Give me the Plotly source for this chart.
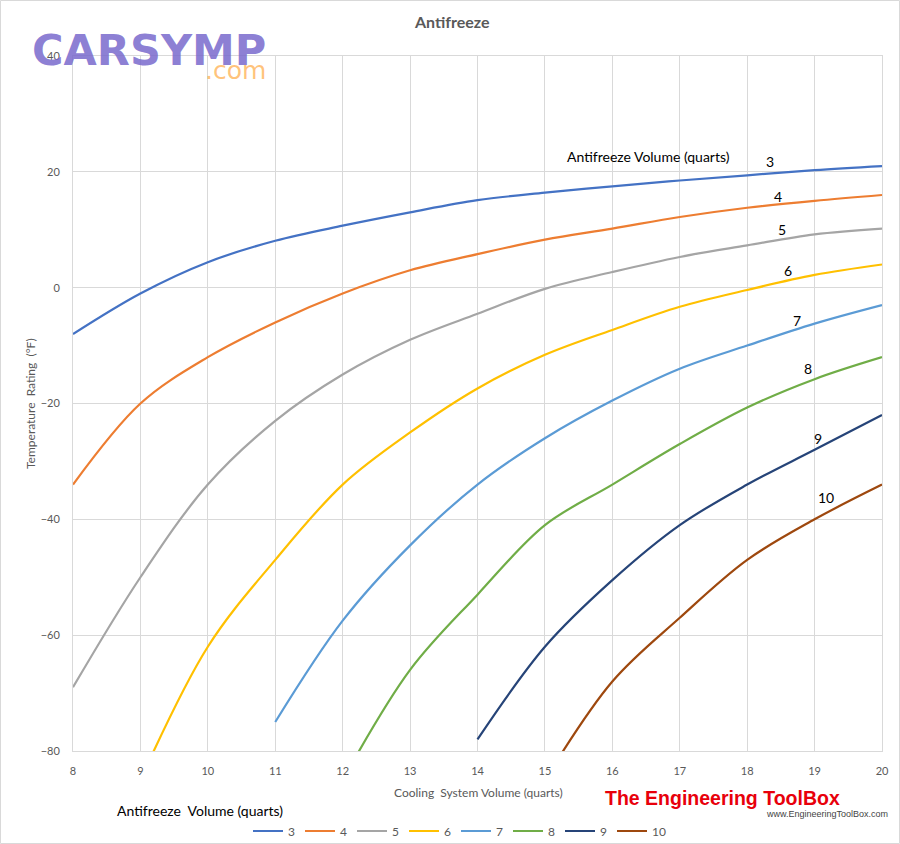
import plotly.graph_objects as go

# ---- data -------------------------------------------------------------
cooling_volume = [8, 9, 10, 11, 12, 13, 14, 15, 16, 17, 18, 19, 20]

antifreeze_3 = [-8, -1, 4.4, 8.1, 10.7, 13, 15.1, 16.4, 17.5, 18.5, 19.4, 20.3, 21]
antifreeze_4 = [-34, -20, -12, -6, -1, 3, 5.8, 8.3, 10.2, 12.2, 13.8, 15, 16]
antifreeze_5 = [-69, -50, -34, -23, -15, -9, -4.5, -0.2, 2.7, 5.3, 7.3, 9.2, 10.2]
antifreeze_6 = [None, -85, -62, -47, -34, -25, -17.4, -11.6, -7.3, -3.3, -0.4, 2.2, 4]
antifreeze_7 = [None, None, None, -75, -57.5, -44.5, -34, -26, -19.5, -14, -10, -6.2, -3]
antifreeze_8 = [None, None, None, None, -85, -66, -53, -41, -34, -27, -20.7, -15.8, -12]
antifreeze_9 = [None, None, None, None, None, None, -78, -62, -50.5, -41, -34, -28, -22]
antifreeze_10 = [None, None, None, None, None, None, None, -85, -68, -57, -47, -40, -34]

series_names = ["3", "4", "5", "6", "7", "8", "9", "10"]
series_values = [antifreeze_3, antifreeze_4, antifreeze_5, antifreeze_6,
                 antifreeze_7, antifreeze_8, antifreeze_9, antifreeze_10]
series_colors = ["#4472C4", "#ED7D31", "#A5A5A5", "#FFC000",
                 "#5B9BD5", "#70AD47", "#264478", "#9E480E"]

# in-plot label positions (data coords)
label_x = [18.34, 18.46, 18.52, 18.6, 18.74, 18.9, 19.05, 19.17]
label_y = [21.7, 15.8, 10.1, 2.9, -5.6, -13.9, -26.0, -36.3]

FONT = "Lato, Calibri, 'Open Sans', sans-serif"
GRID = "#d9d9d9"
TXT = "#595959"

W, H = 900, 844
L, R, T, B = 73, 18, 56, 93
PW, PH = W - L - R, H - T - B

fig = go.Figure()
for name, vals, col in zip(series_names, series_values, series_colors):
    fig.add_trace(go.Scatter(
        x=cooling_volume, y=vals, name=name, mode="lines",
        line=dict(color=col, width=2.2, shape="spline", smoothing=1.0),
        connectgaps=False,
    ))

annotations = []
for name, lx, ly in zip(series_names, label_x, label_y):
    annotations.append(dict(x=lx, y=ly, xref="x", yref="y", text=name,
                            xanchor="center", yanchor="middle",
                            showarrow=False, font=dict(family=FONT, size=14, color="#000000")))
annotations.append(dict(x=15.3, y=22.6, xref="x", yref="y", xanchor="left", yanchor="middle",
                        text="Antifreeze Volume (quarts)", showarrow=False,
                        font=dict(family=FONT, size=14, color="#000000")))

def px_x(p):
    return (p - L) / PW

def px_y(p):
    return (H - B - p) / PH

def paper_text(text, x, y, size, color=TXT, family=FONT, xanchor="center", angle=0):
    return dict(x=px_x(x), y=px_y(y), xref="paper", yref="paper", text=text,
                xanchor=xanchor, yanchor="middle", showarrow=False, textangle=angle,
                font=dict(family=family, size=size, color=color))

annotations += [
    paper_text("<b>Antifreeze</b>", 452, 22, 16),
    paper_text("Cooling  System Volume (quarts)", 478, 792, 12),
    paper_text("Temperature  Rating  (°F)", 31, 404, 12, angle=-90),
    paper_text("Antifreeze  Volume (quarts)", 115, 811, 14, color="#000000", xanchor="left"),
    paper_text("<b>CARSYMP</b>", 30, 50, 43, color="rgba(120,105,205,0.85)",
               family="DejaVu Sans", xanchor="left"),
    paper_text(".com", 203, 71, 25, color="rgba(255,185,100,0.85)",
               family="DejaVu Sans", xanchor="left"),
    paper_text("<b>The Engineering ToolBox</b>", 603, 798, 19.5, color="#e8000b",
               family="'Liberation Sans', Arial, sans-serif", xanchor="left"),
    paper_text("www.EngineeringToolBox.com", 890, 814, 9, color="#444444",
               family="'Liberation Sans', Arial, sans-serif", xanchor="right"),
]

fig.update_layout(
    width=W, height=H,
    margin=dict(l=L, r=R, t=T, b=B, autoexpand=False),
    paper_bgcolor="white", plot_bgcolor="white",
    font=dict(family=FONT, color=TXT),
    showlegend=True,
    legend=dict(orientation="h", x=px_x(248), xanchor="left", y=px_y(831), yanchor="middle",
                font=dict(family=FONT, size=12, color=TXT), bgcolor="rgba(0,0,0,0)",
                borderwidth=0),
    annotations=annotations,
    shapes=[dict(type="rect", xref="paper", yref="paper",
                 x0=(-L + 0.5) / PW, x1=1 + (R - 0.5) / PW,
                 y0=(-B + 0.5) / PH, y1=1 + (T - 0.5) / PH,
                 line=dict(color=GRID, width=1), layer="below")],
)
fig.update_xaxes(range=[8, 20], dtick=1, tick0=8, showgrid=True, gridcolor=GRID, gridwidth=1,
                 zeroline=False, showline=True, mirror=True, linecolor=GRID, linewidth=1,
                 ticks="", ticklabelstandoff=10,
                 tickfont=dict(family=FONT, size=11, color=TXT))
fig.update_yaxes(range=[-80, 40], dtick=20, tick0=-80, showgrid=True, gridcolor=GRID, gridwidth=1,
                 zeroline=False, showline=True, mirror=True, linecolor=GRID, linewidth=1,
                 ticks="", ticklabelstandoff=10,
                 tickfont=dict(family=FONT, size=11, color=TXT))

fig.write_html(
    "out.html",
    config={"displayModeBar": False},
    post_script="document.body.style.margin='0';document.body.style.padding='0';"
                "document.body.style.overflow='hidden';",
)
